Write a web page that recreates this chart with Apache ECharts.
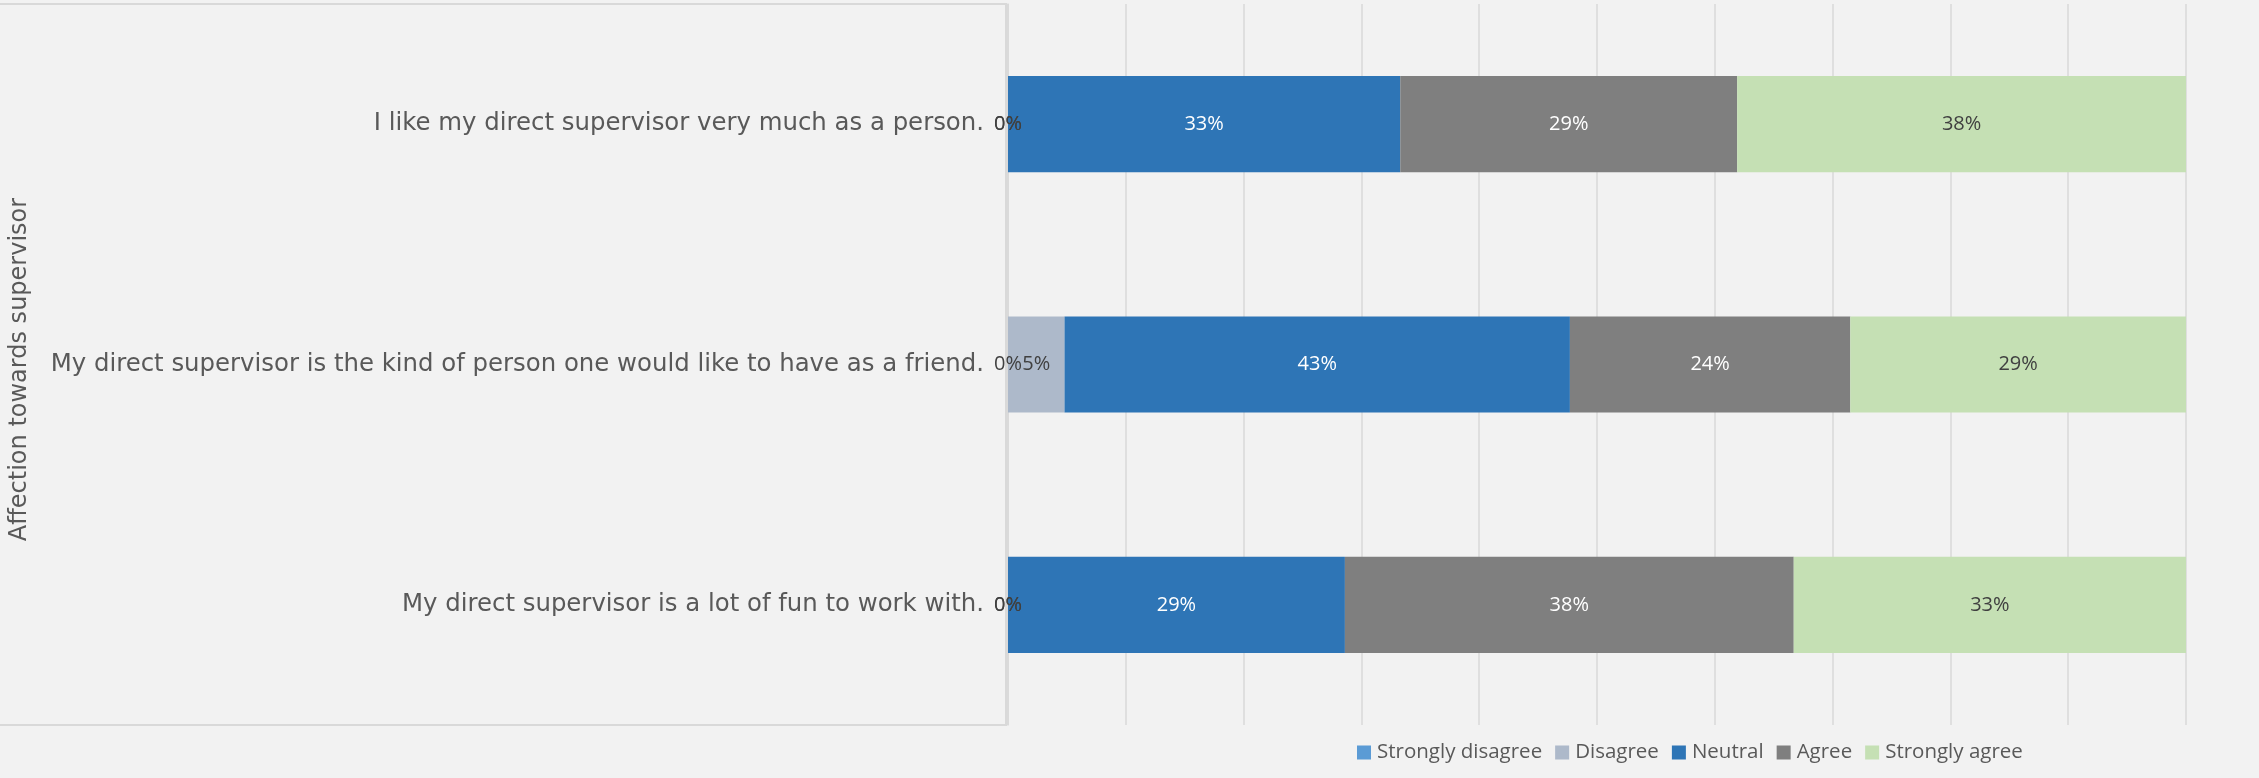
<!DOCTYPE html>
<html>
<head>
<meta charset="utf-8">
<script src="https://cdn.jsdelivr.net/npm/echarts@6/dist/echarts.min.js"></script>
<style>
html,body{margin:0;padding:0;background:#f2f2f2;}
#chart{width:2259px;height:778px;}
</style>
</head>
<body>
<div id="chart"></div>
<script>
const categories = [
  "I like my direct supervisor very much as a person.",
  "My direct supervisor is the kind of person one would like to have as a friend.",
  "My direct supervisor is a lot of fun to work with."
];
const seriesNames = ["Strongly disagree", "Disagree", "Neutral", "Agree", "Strongly agree"];
const stronglyDisagree = [0, 0, 0];
const disagree = [0, 4.8, 0];
const neutral = [33.3, 42.9, 28.6];
const agree = [28.6, 23.8, 38.1];
const stronglyAgree = [38.1, 28.6, 33.3];
const axisTitle = "Affection towards supervisor";

const values = [stronglyDisagree, disagree, neutral, agree, stronglyAgree];
const colors = ["#5b9bd5", "#adb9ca", "#2e75b6", "#7f7f7f", "#c5e0b4"];
const labelColors = ["#404040", "#404040", "#ffffff", "#ffffff", "#404040"];
const FONT = "DejaVu Sans";
const FONT2 = "Open Sans";

const chart = echarts.init(document.getElementById('chart'));
chart.setOption({
  backgroundColor: '#f2f2f2',
  animation: false,
  graphic: [{
    type: 'rect',
    z: -10,
    shape: {x: -2, y: 4, width: 1008, height: 721},
    style: {fill: '#f2f2f2', stroke: '#d9d9d9', lineWidth: 2}
  }],
  grid: {left: 1006, right: 73, top: 4, bottom: 53, containLabel: false},
  legend: {
    top: 737,
    left: 1352,
    itemWidth: 14,
    itemHeight: 14,
    itemGap: 13,
    icon: 'rect',
    textStyle: {fontFamily: FONT2, fontSize: 20.5, color: '#595959', padding: [0, 0, 0, 1]},
    data: seriesNames
  },
  xAxis: {
    type: 'value',
    min: 0, max: 100, interval: 10,
    axisLabel: {show: false},
    axisLine: {show: false},
    axisTick: {show: false},
    splitLine: {show: true, lineStyle: {color: '#d9d9d9', width: 1.5}}
  },
  yAxis: {
    type: 'category',
    inverse: true,
    data: categories,
    axisLine: {show: true, lineStyle: {color: '#d9d9d9', width: 1.5}},
    axisTick: {show: false},
    axisLabel: {fontFamily: FONT, fontSize: 24.4, color: '#595959', margin: 24},
    name: axisTitle,
    nameLocation: 'middle',
    nameRotate: 90,
    nameGap: 976,
    nameTextStyle: {fontFamily: FONT, fontSize: 24, color: '#595959', padding: [0, 10, 0, 0]}
  },
  series: seriesNames.map((name, i) => ({
    name: name,
    type: 'bar',
    stack: 'total',
    barWidth: '40%',
    data: values[i],
    itemStyle: {color: colors[i]},
    label: {
      show: true,
      position: 'inside',
      fontFamily: FONT2,
      fontSize: 20,
      color: labelColors[i],
      formatter: p => Math.round(p.value) + '%'
    }
  }))
});
</script>
</body>
</html>
